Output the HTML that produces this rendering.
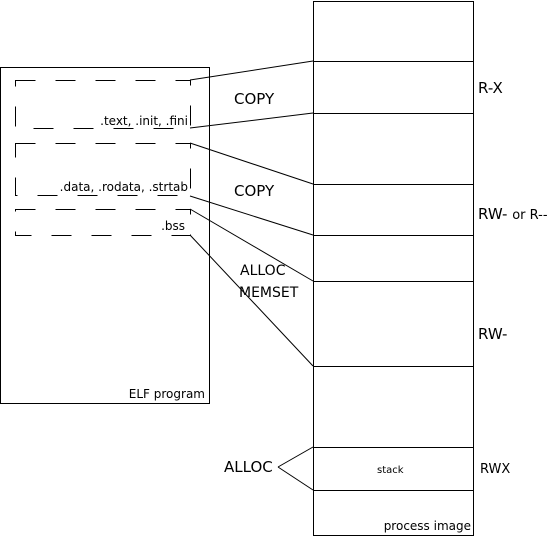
<!DOCTYPE html>
<html><head><style>
body{margin:0;background:#fff;width:554px;height:541px;overflow:hidden}
svg text{font-family:"DejaVu Sans","Liberation Sans",sans-serif;fill:#000}
</style></head><body>
<svg width="554" height="541" viewBox="0 0 554 541" xmlns="http://www.w3.org/2000/svg">
<g fill="none" stroke="#000" stroke-width="1">
<rect x="313.5" y="1.5" width="160" height="534"/>
<line x1="313" y1="61.5" x2="473" y2="61.5"/>
<line x1="313" y1="113.5" x2="473" y2="113.5"/>
<line x1="313" y1="184.5" x2="473" y2="184.5"/>
<line x1="313" y1="235.5" x2="473" y2="235.5"/>
<line x1="313" y1="281.5" x2="473" y2="281.5"/>
<line x1="313" y1="366.5" x2="473" y2="366.5"/>
<line x1="313" y1="447.5" x2="473" y2="447.5"/>
<line x1="313" y1="490.5" x2="473" y2="490.5"/>
<rect x="0.5" y="67.5" width="209" height="336"/>
<g stroke-dasharray="20,20">
<rect x="15.5" y="80.5" width="175" height="48"/>
<rect x="15.5" y="143.5" width="175" height="52"/>
<rect x="15.5" y="209.5" width="175" height="26"/>
</g>
<line x1="190" y1="80" x2="313" y2="61"/>
<line x1="190" y1="128" x2="313" y2="113"/>
<line x1="190" y1="143" x2="313" y2="184"/>
<line x1="190" y1="196" x2="313" y2="235"/>
<line x1="190" y1="209" x2="313" y2="281"/>
<line x1="190" y1="235" x2="313" y2="366"/>
<line x1="278" y1="467" x2="313" y2="447"/>
<line x1="278" y1="467" x2="313" y2="490"/>
</g>
<g font-size="12">
<rect x="96" y="114" width="92" height="14" fill="#fff"/>
<text x="188" y="125" text-anchor="end">.text, .init, .fini</text>
<rect x="50" y="180" width="138" height="14" fill="#fff"/>
<text x="188" y="191" text-anchor="end">.data, .rodata, .strtab</text>
<rect x="155" y="219" width="33" height="14" fill="#fff"/>
<text x="185" y="230" text-anchor="end">.bss</text>
<text x="205" y="398" text-anchor="end">ELF program</text>
<text x="471" y="530" text-anchor="end">process image</text>
</g>
<g font-size="14">
<text x="240" y="275">ALLOC</text>
<text x="239" y="297">MEMSET</text>
</g>
<g font-size="15">
<text x="234" y="104">COPY</text>
<text x="234" y="196">COPY</text>
<text x="478" y="93">R-X</text>
<text x="478" y="219">RW- <tspan font-size="13">or R--</tspan></text>
<text x="478" y="339">RW-</text>
<text x="224" y="472">ALLOC</text>
</g>
<text x="480" y="473" font-size="13">RWX</text>
<text x="377" y="473" font-size="10">stack</text>
</svg>
</body></html>
